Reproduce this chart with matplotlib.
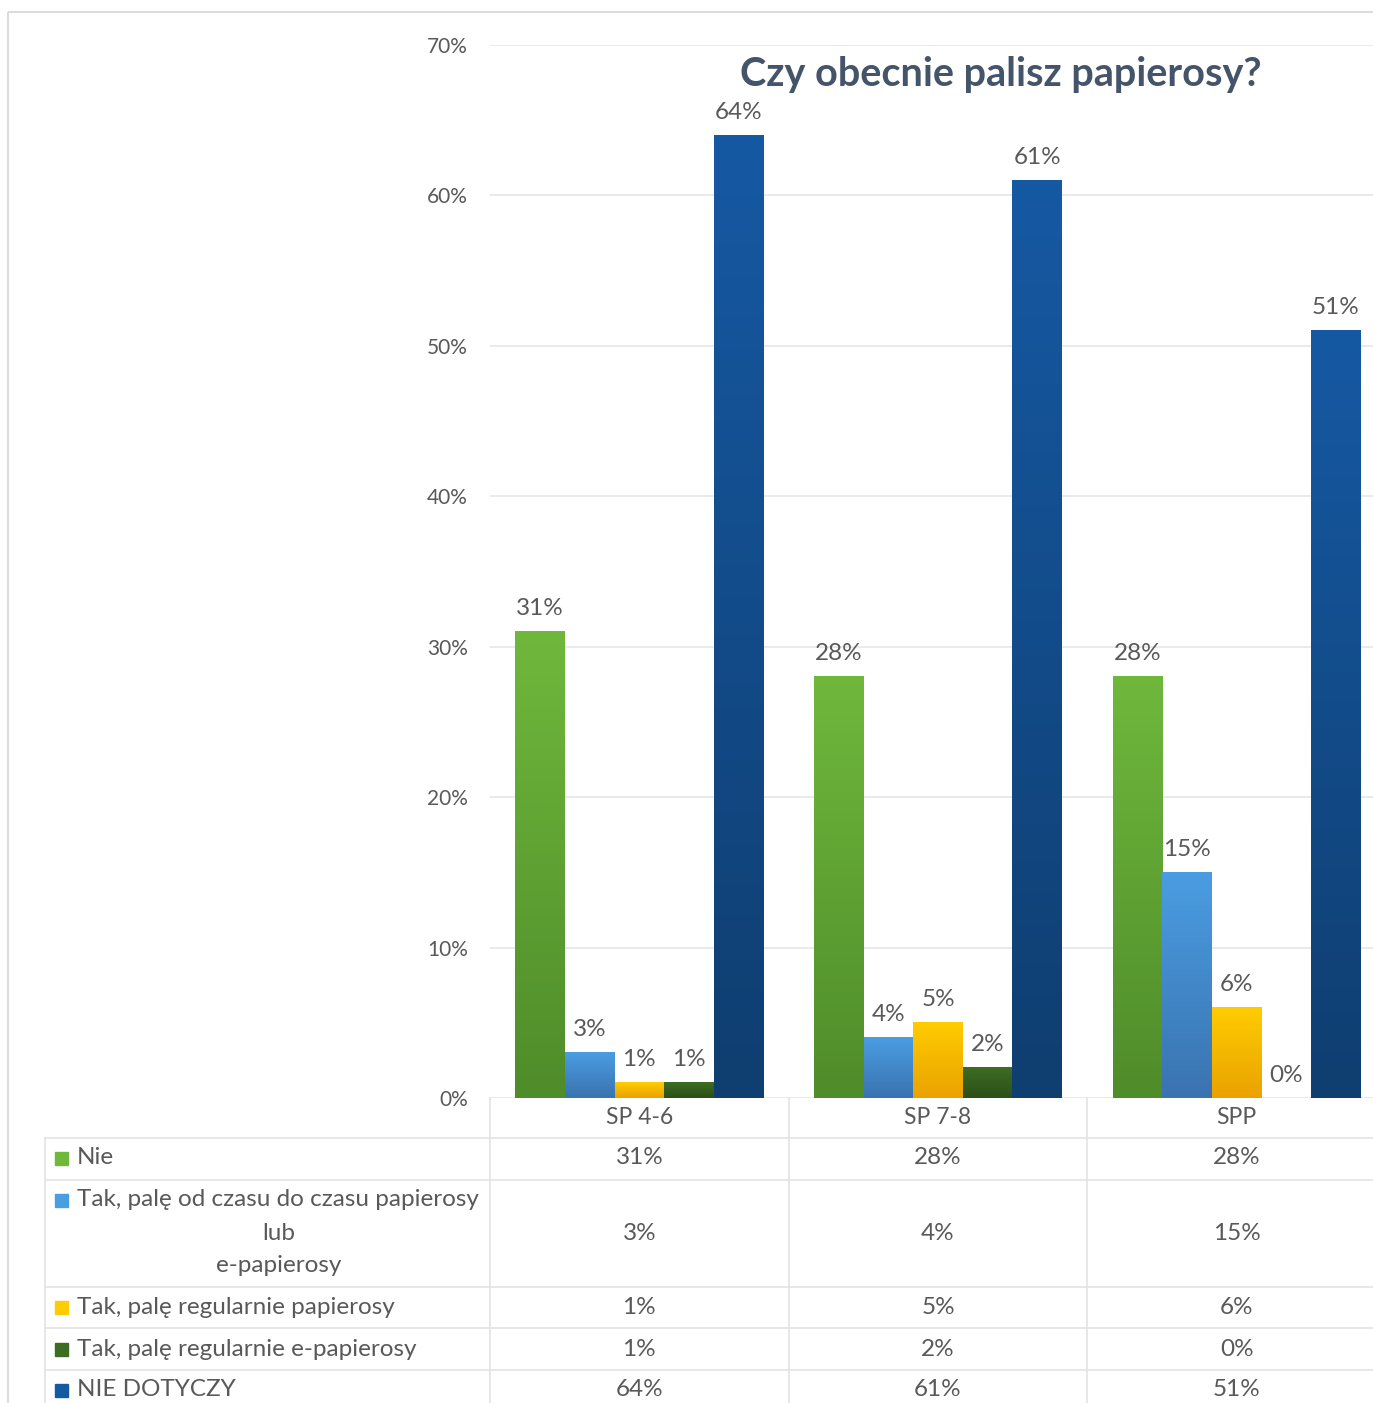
import numpy as np
import matplotlib
matplotlib.use('Agg')
import matplotlib.pyplot as plt
from matplotlib.colors import LinearSegmentedColormap
from matplotlib.transforms import blended_transform_factory
from matplotlib.patches import Rectangle

plt.rcParams['font.family'] = ['Lato', 'DejaVu Sans']

# dane
categories = ['SP 4-6', 'SP 7-8', 'SPP']
series_names = ['Nie',
                'Tak, palę od czasu do czasu papierosy\nlub\ne-papierosy',
                'Tak, palę regularnie papierosy',
                'Tak, palę regularnie e-papierosy',
                'NIE DOTYCZY']
nie = [31, 28, 28]
okazjonalnie = [3, 4, 15]
regularnie_pap = [1, 5, 6]
regularnie_epap = [1, 2, 0]
nie_dotyczy = [64, 61, 51]
values = [nie, okazjonalnie, regularnie_pap, regularnie_epap, nie_dotyczy]
yticks = [0, 10, 20, 30, 40, 50, 60, 70]

# kolory (gora, dol) dla gradientu
top_cols = ['#6fb83c', '#4a9de2', '#ffcc00', '#3d6d23', '#1659a3']
bot_cols = ['#4f8c2a', '#3a73b0', '#eaa200', '#2c4f18', '#0f3e70']

W, H = 1373, 1403
fig = plt.figure(figsize=(W / 100, H / 100), dpi=100)

# warstwa w pikselach (tabela, ramka)
ov = fig.add_axes([0, 0, 1, 1])
ov.set_xlim(0, W)
ov.set_ylim(H, 0)
ov.axis('off')

ax = fig.add_axes([490 / W, 1 - 1098 / H, 896 / W, (1098 - 45) / H])
ax.set_facecolor('none')

txt_col = '#595959'
fs = 17.5

n = len(values)
bw = 0.166
x = np.arange(len(categories))
grad = np.linspace(0, 1, 256).reshape(-1, 1)
for i, vals in enumerate(values):
    pos = x + (i - (n - 1) / 2) * bw
    bars = ax.bar(pos, vals, width=bw, color='none', zorder=3)
    cmap = LinearSegmentedColormap.from_list('g%d' % i, [bot_cols[i], top_cols[i]])
    for b in bars:
        h = b.get_height()
        if h <= 0:
            continue
        bx = b.get_x()
        ax.imshow(grad, extent=[bx, bx + b.get_width(), 0, h], origin='lower',
                  cmap=cmap, aspect='auto', zorder=3)
    ax.bar_label(bars, labels=['%d%%' % v for v in vals], padding=9,
                 fontsize=fs, color=txt_col, zorder=4)

ax.set_xlim(-0.5, 2.5)
ax.set_ylim(0, 70)
ax.set_yticks(yticks)
ax.set_yticklabels(['%d%%' % t for t in yticks], fontsize=15, color=txt_col)
ax.tick_params(axis='y', length=0, pad=16)
ax.set_xticks([])
ax.grid(axis='y', color='#e6e6e6', linewidth=1.2, zorder=0)
for s in ax.spines.values():
    s.set_visible(False)

ax.text(0.57, 0.972, 'Czy obecnie palisz papierosy?', transform=ax.transAxes,
        ha='center', va='center', fontsize=28.5, fontweight='bold', color='#44546a')

# tabela danych
tr = blended_transform_factory(ax.transData, ov.transData)
row_lines = [1138, 1180, 1287, 1328, 1370]
row_centers = [1158, 1233, 1307, 1349, 1390]
line_col = '#e3e3e3'
for yl in row_lines:
    ov.plot([45, W], [yl, yl], color=line_col, lw=1.2)
ov.plot([45, 45], [1138, H], color=line_col, lw=1.2)
for xb in [-0.5, 0.5, 1.5]:
    ov.plot([xb, xb], [1098, H], color=line_col, lw=1.2, transform=tr)

for j, c in enumerate(categories):
    ov.text(j, 1118, c, transform=tr, ha='center', va='center',
            fontsize=16.5, color=txt_col)

for i, vals in enumerate(values):
    yc = row_centers[i]
    for j, v in enumerate(vals):
        ov.text(j, yc, '%d%%' % v, transform=tr, ha='center', va='center',
                fontsize=fs, color=txt_col)
    lines = series_names[i].split('\n')
    if len(lines) == 1:
        ty = yc
    else:
        ty = yc - 33
    ov.add_patch(Rectangle((55, ty - 6), 13, 13, color=top_cols[i]))
    ov.text(77, ty, lines[0], ha='left', va='center', fontsize=fs, color=txt_col)
    for k, ln in enumerate(lines[1:]):
        ov.text(279, ty + 33 * (k + 1), ln, ha='center', va='center',
                fontsize=fs, color=txt_col)

# ramka
ov.add_patch(Rectangle((8, 12), W + 20, H + 20, fill=False, ec='#dcdcdc', lw=1.5))

fig.savefig('out.png', dpi=100)
